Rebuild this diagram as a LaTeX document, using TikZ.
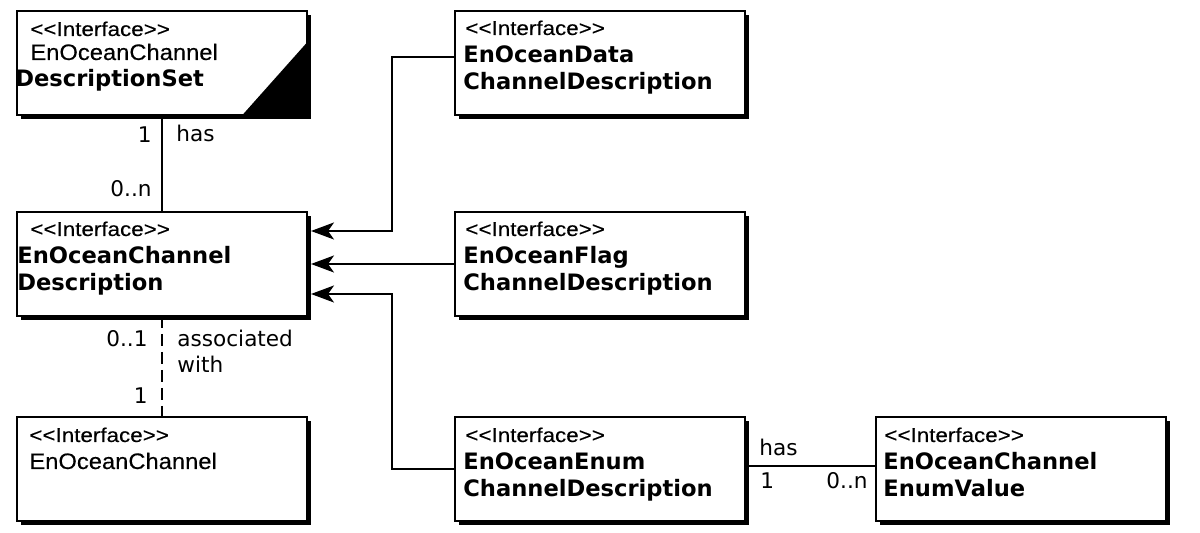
\documentclass[tikz,border=0pt]{standalone}
\usepackage{fontspec}
\setmainfont{DejaVu Sans}
\newfontfamily\stereofont[FakeStretch=1.12,FakeBold=0.3]{Liberation Sans}
\newfontfamily\plainfont[FakeStretch=1.06,FakeBold=0.3]{Liberation Sans}
\usetikzlibrary{arrows.meta,shadows}

\begin{document}
\begin{tikzpicture}[x=0.5pt,y=-0.5pt,
	umlbox/.style={shape=rectangle,draw=black,line width=1pt,fill=white,
		minimum width=145pt,minimum height=52pt,inner sep=0pt,outer sep=0pt,
		drop shadow={shadow xshift=2pt,shadow yshift=-2pt,fill=black,opacity=1}},
	stereo/.style={anchor=base west,inner sep=0pt,font=\stereofont\fontsize{10pt}{11pt}\selectfont},
	boldname/.style={anchor=base west,inner sep=0pt,font=\bfseries\fontsize{11.3pt}{13pt}\selectfont},
	plainname/.style={anchor=base west,inner sep=0pt,font=\plainfont\fontsize{11.2pt}{13pt}\selectfont},
	lbl/.style={inner sep=0pt,font=\fontsize{10.8pt}{13pt}\selectfont},
	gen/.style={-{Stealth[length=11.5pt,width=8.5pt,inset=3pt]},line width=1pt},
	assoc/.style={line width=1pt}]
	
	\useasboundingbox (0,0) rectangle (1200,533);
	
	% left column
	\node[umlbox] (set)  at (162, 63.5)  {};
	\node[umlbox] (desc) at (162, 264)   {};
	\node[umlbox] (chan) at (162, 469.5) {};
	
	% right column
	\node[umlbox] (data) at (599.5, 63.5)  {};
	\node[umlbox] (flag) at (599.5, 264)   {};
	\node[umlbox] (enum) at (599.5, 469.5) {};
	\node[umlbox] (val)  at (1020.5, 469.5) {};
	
	% corner mark of the set box
	\fill[black] (set.south east) -- ([yshift=-15.5pt]set.north east) -- ([xshift=-32.5pt]set.south east) -- cycle;
	
	% texts
	\node[stereo]    (set1)  at (30, 36)  {<<Interface>>};
	\node[plainname] (set2)  at (30, 60)  {EnOceanChannel};
	\node[boldname]  (set3)  at (15, 87)  {DescriptionSet};
	
	\node[stereo]    (desc1) at (30, 236) {<<Interface>>};
	\node[boldname]  (desc2) at (17, 264) {EnOceanChannel};
	\node[boldname]  (desc3) at (17, 291) {Description};
	
	\node[stereo]    (chan1) at (29, 442) {<<Interface>>};
	\node[plainname] (chan2) at (29, 469) {EnOceanChannel};
	
	\node[stereo]    (data1) at (465, 35) {<<Interface>>};
	\node[boldname]  (data2) at (463, 63) {EnOceanData};
	\node[boldname]  (data3) at (463, 90) {ChannelDescription};
	
	\node[stereo]    (flag1) at (465, 236) {<<Interface>>};
	\node[boldname]  (flag2) at (463, 264) {EnOceanFlag};
	\node[boldname]  (flag3) at (463, 291) {ChannelDescription};
	
	\node[stereo]    (enum1) at (465, 442) {<<Interface>>};
	\node[boldname]  (enum2) at (463, 470) {EnOceanEnum};
	\node[boldname]  (enum3) at (463, 497) {ChannelDescription};
	
	\node[stereo]    (val1)  at (884, 442) {<<Interface>>};
	\node[boldname]  (val2)  at (883, 470) {EnOceanChannel};
	\node[boldname]  (val3)  at (883, 497) {EnumValue};
	
	% bends of the generalisations
	\coordinate (up)   at (392, 231);
	\coordinate (down) at (392, 294);
	
	\draw[gen] ([yshift=3.25pt]data.west) -| (up) -- ([xshift=2pt]desc.east |- up);
	\draw[gen] (flag.west) -- ([xshift=2pt]desc.east);
	\draw[gen] (enum.west) -| (down) -- ([xshift=2pt]desc.east |- down);
	
	% associations
	\draw[assoc] (set.south) -- (desc.north);
	\draw[assoc,dash pattern=on 6pt off 3pt] (desc.south) -- (chan.north);
	\draw[assoc] ([yshift=1.75pt]enum.east) -- ([yshift=1.75pt]val.west);
	
	\node[lbl,anchor=base east] (m1) at (152, 143) {1};
	\node[lbl,anchor=base west] (h1) at (176, 142) {has};
	\node[lbl,anchor=base east] (m2) at (152, 197) {0..n};
	
	\node[lbl,anchor=base east] (m3) at (148, 347) {0..1};
	\node[lbl,anchor=base west,align=left] (h2) at (177, 373) {associated\\with};
	\node[lbl,anchor=base east] (m4) at (148, 404) {1};
	
	\node[lbl,anchor=base west] (h3) at (759, 456) {has};
	\node[lbl,anchor=base west] (m5) at (760, 489) {1};
	\node[lbl,anchor=base east] (m6) at (868, 489) {0..n};
	
\end{tikzpicture}
\end{document}
